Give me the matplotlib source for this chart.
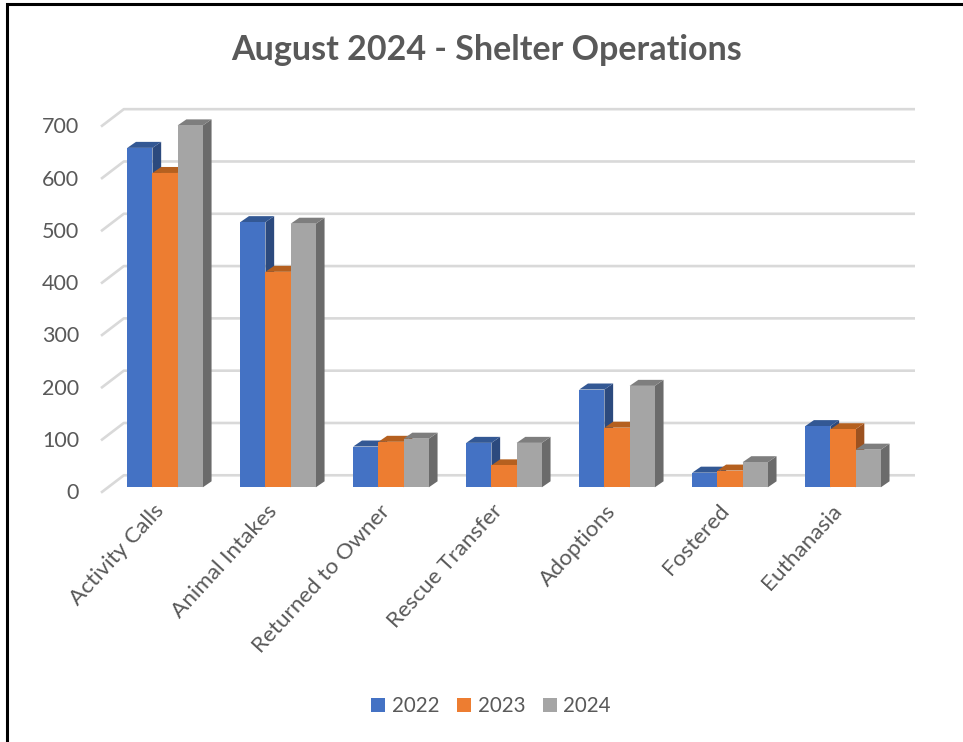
"""August 2024 shelter operations, Excel style 3D clustered columns"""

#imports
import matplotlib
matplotlib.use("Agg")
import matplotlib.pyplot as plt
from matplotlib.lines import Line2D
from matplotlib.patches import Polygon
from matplotlib.transforms import ScaledTranslation

plt.rcParams["font.family"] = ["Lato", "DejaVu Sans"]

#data
categories = ["Activity Calls", "Animal Intakes", "Returned to Owner", "Rescue Transfer", "Adoptions", "Fostered", "Euthanasia"]
years = ["2022", "2023", "2024"]
values_2022 = [649, 507, 78, 85, 187, 28, 117]
values_2023 = [601, 412, 87, 42, 114, 32, 111]
values_2024 = [692, 504, 93, 85, 194, 48, 72]
y_ticks = [0, 100, 200, 300, 400, 500, 600, 700]

#colours: front, side, top
front_colours = ["#4472C4", "#ED7D31", "#A5A5A5"]
side_colours = ["#2C4A7E", "#9C5220", "#6B6B6B"]
top_colours = ["#335894", "#B5601F", "#7E7E7E"]
grid_colour = "#D9D9D9"
text_colour = "#595959"

W, H = 963, 742
PX_PER_VAL = 0.523
PX_PER_CAT = 113.0
bar_w = 25.2/PX_PER_CAT
depth_x = 8.7/PX_PER_CAT
depth_y = 6.0/PX_PER_VAL

fig = plt.figure(figsize=(W/100, H/100), dpi=100)
left_px, right_px, top_px, bottom_px = 101, 915, 105, 492.7
ax = fig.add_axes([left_px/W, 1 - bottom_px/H, (right_px - left_px)/W, (bottom_px - top_px)/H])
ax.set_xlim(-0.567, 6.637)
ax.set_ylim(-10.3, (487.3 - top_px)/PX_PER_VAL)
for s in ax.spines.values():
    s.set_visible(False)

#back wall and the slanted lines on the left
for v in y_ticks:
    ax.plot([-0.567, -0.365, 6.637], [v - 10.3, v + 23, v + 23], color=grid_colour, lw=1.9, clip_on=False, zorder=1, solid_capstyle="butt")

#columns
series = [values_2022, values_2023, values_2024]
handles = []
z = 2
for i in range(len(categories)):
    for j in range(len(series)):
        x0 = i - 1.5*bar_w + j*bar_w
        x1 = x0 + bar_w
        v = series[j][i]
        ax.add_patch(Polygon([(x1, 0), (x1 + depth_x, depth_y), (x1 + depth_x, v + depth_y), (x1, v)], facecolor=side_colours[j], edgecolor="none", zorder=z))
        ax.add_patch(Polygon([(x0, v), (x0 + depth_x, v + depth_y), (x1 + depth_x, v + depth_y), (x1, v)], facecolor=top_colours[j], edgecolor="none", zorder=z))
        ax.bar(x0, v, width=bar_w, align="edge", color=front_colours[j], zorder=z + 0.5)
        z += 1

for j in range(len(years)):
    handles.append(plt.Rectangle((0, 0), 1, 1, facecolor=front_colours[j], edgecolor="none"))

ax.set_yticks(y_ticks)
ax.set_xticks(range(len(categories)))
ax.set_xticklabels(categories, rotation=47.5, ha="right", va="top", rotation_mode="anchor", fontsize=16.2, color=text_colour)
ax.tick_params(axis="x", length=0, pad=6)
ax.tick_params(axis="y", length=0, pad=15.8, labelsize=15.5, labelcolor=text_colour)

#slide category labels left, Excel anchors them further from the column centre
shift = ScaledTranslation(-12/100, 0, fig.dpi_scale_trans)
for label in ax.get_xticklabels():
    label.set_transform(label.get_transform() + shift)

#value labels sit a few pixels below their gridline
shift_y = ScaledTranslation(0, -4/100, fig.dpi_scale_trans)
for label in ax.get_yticklabels():
    label.set_transform(label.get_transform() + shift_y)

fig.text(487/W, 1 - 50.5/H, "August 2024 - Shelter Operations", ha="center", va="center", fontsize=24.5, fontweight="bold", color=text_colour)

fig.legend(handles, years, loc="center", bbox_to_anchor=(491/W, 1 - 706/H), ncol=3, frameon=False, fontsize=14.8,
           handlelength=0.68, handleheight=0.68, handletextpad=0.33, columnspacing=0.85, labelcolor=text_colour)

#black frame around the chart
fig.add_artist(Line2D([7/W, 7/W, 1], [0, 1 - 4/H, 1 - 4/H], color="black", lw=2.2, solid_joinstyle="miter"))

fig.savefig("out.png", dpi=100)
